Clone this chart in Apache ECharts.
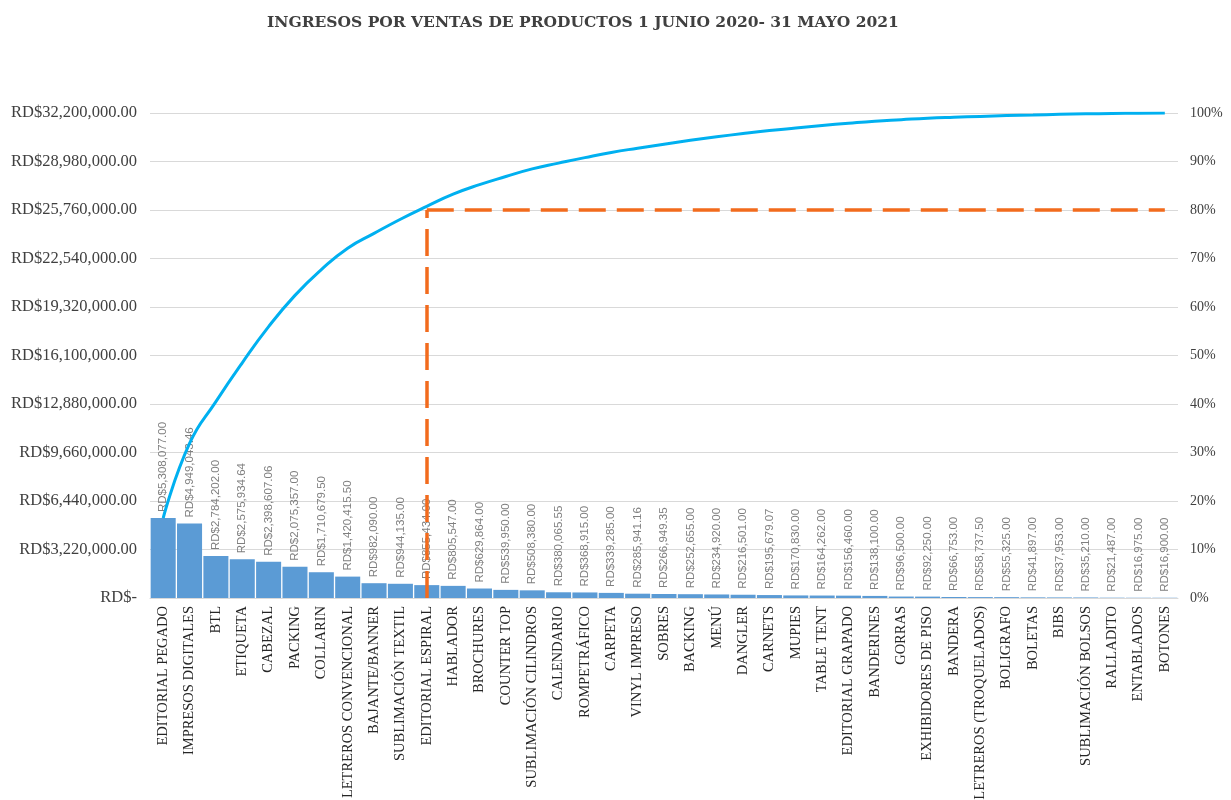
<!DOCTYPE html>
<html>
<head>
<meta charset="utf-8">
<title>Ingresos por ventas de productos</title>
<script src="https://cdn.jsdelivr.net/npm/echarts@6/dist/echarts.min.js"></script>
<style>
  html, body { margin: 0; padding: 0; background: #fff; }
  #chart { width: 1231px; height: 800px; }
</style>
</head>
<body>
<div id="chart"></div>
<script>
// productos, ordenados de mayor a menor
var productos = ['EDITORIAL PEGADO', 'IMPRESOS DIGITALES', 'BTL', 'ETIQUETA', 'CABEZAL', 'PACKING',
  'COLLARIN', 'LETREROS CONVENCIONAL', 'BAJANTE/BANNER', 'SUBLIMACIÓN TEXTIL', 'EDITORIAL ESPIRAL',
  'HABLADOR', 'BROCHURES', 'COUNTER TOP', 'SUBLIMACIÓN CILINDROS', 'CALENDARIO', 'ROMPETRÁFICO',
  'CARPETA', 'VINYL IMPRESO', 'SOBRES', 'BACKING', 'MENÚ', 'DANGLER', 'CARNETS', 'MUPIES',
  'TABLE TENT', 'EDITORIAL GRAPADO', 'BANDERINES', 'GORRAS', 'EXHIBIDORES DE PISO', 'BANDERA',
  'LETREROS (TROQUELADOS)', 'BOLIGRAFO', 'BOLETAS', 'BIBS', 'SUBLIMACIÓN BOLSOS', 'RALLADITO',
  'ENTABLADOS', 'BOTONES'];

// ingresos en RD$
var ingresos = [5308077.00, 4949043.46, 2784202.00, 2575934.64, 2398607.06, 2075357.00,
  1710679.50, 1420415.50, 982090.00, 944135.00, 855434.00,
  805547.00, 629864.00, 539950.00, 508380.00, 380065.55, 368915.00,
  339285.00, 285941.16, 266949.35, 252655.00, 234920.00, 216501.00, 195679.07, 170830.00,
  164262.00, 156460.00, 138100.00, 96500.00, 92250.00, 66753.00,
  58737.50, 55325.00, 41897.00, 37953.00, 35210.00, 21487.00,
  16975.00, 16900.00];

// % acumulado
var acumulado = [16.49, 31.86, 40.50, 48.50, 55.95, 62.40, 67.71, 72.12, 75.17, 78.10, 80.76,
  83.26, 85.22, 86.90, 88.48, 89.66, 90.80, 91.86, 92.74, 93.57, 94.36, 95.09, 95.76, 96.37,
  96.90, 97.41, 97.89, 98.32, 98.62, 98.91, 99.12, 99.30, 99.47, 99.60, 99.72, 99.83, 99.90,
  99.95, 100.00];

// corte 80/20
var corteProducto = 'EDITORIAL ESPIRAL';
var cortePct = 80;

var maxRD = 32200000;
var pasoRD = 3220000;

function rd(v) {
  if (v === 0) return 'RD$-';
  return 'RD$' + v.toLocaleString('en-US', {minimumFractionDigits: 2, maximumFractionDigits: 2});
}

var serif = '"Liberation Serif", "DejaVu Serif", serif';

var myChart = echarts.init(document.getElementById('chart'));
myChart.setOption({
  animation: false,
  title: {
    text: 'INGRESOS POR VENTAS DE PRODUCTOS 1 JUNIO 2020- 31 MAYO 2021',
    left: 262,
    top: 10,
    textStyle: {
      fontFamily: '"DejaVu Serif", serif',
      fontWeight: 'bold',
      fontSize: 15.5,
      color: '#404040'
    }
  },
  grid: {
    left: 150,
    right: 53,
    top: 113,
    bottom: 202,
    containLabel: false,
    outerBoundsMode: 'none'
  },
  xAxis: {
    type: 'category',
    data: productos,
    axisTick: { show: false },
    axisLine: { lineStyle: { color: '#d9d9d9' } },
    axisLabel: {
      rotate: 90,
      interval: 0,
      margin: 8,
      fontFamily: serif,
      fontSize: 14.5,
      color: '#262626'
    }
  },
  yAxis: [
    {
      type: 'value',
      min: 0,
      max: maxRD,
      interval: pasoRD,
      axisLine: { show: false },
      axisTick: { show: false },
      splitLine: { lineStyle: { color: '#d9d9d9' } },
      axisLabel: {
        margin: 13,
        fontFamily: serif,
        fontSize: 16.5,
        color: '#404040',
        formatter: rd
      }
    },
    {
      type: 'value',
      min: 0,
      max: 100,
      interval: 10,
      axisLine: { show: false },
      axisTick: { show: false },
      splitLine: { show: false },
      axisLabel: {
        margin: 12,
        fontFamily: serif,
        fontSize: 14,
        color: '#404040',
        formatter: '{value}%'
      }
    }
  ],
  series: [
    {
      name: 'Ingresos',
      type: 'bar',
      data: ingresos,
      barCategoryGap: '5%',
      itemStyle: { color: '#5b9bd5' },
      label: {
        show: true,
        position: 'top',
        rotate: 90,
        align: 'left',
        verticalAlign: 'middle',
        distance: 6,
        fontFamily: '"Liberation Sans", sans-serif',
        fontSize: 11.5,
        color: '#7f7f7f',
        formatter: function (p) { return rd(p.value); }
      }
    },
    {
      name: '% acumulado',
      type: 'line',
      yAxisIndex: 1,
      data: acumulado,
      smooth: true,
      symbol: 'none',
      z: 5,
      lineStyle: { color: '#00b0f0', width: 3 },
      markLine: {
        silent: true,
        symbol: 'none',
        label: { show: false },
        lineStyle: { color: '#f26b1d', width: 3.5, type: [27, 11] },
        data: [
          [{ coord: [corteProducto, 0] }, { coord: [corteProducto, cortePct] }],
          [{ coord: [corteProducto, cortePct] }, { coord: [productos[productos.length - 1], cortePct] }]
        ]
      }
    }
  ]
});
</script>
</body>
</html>
